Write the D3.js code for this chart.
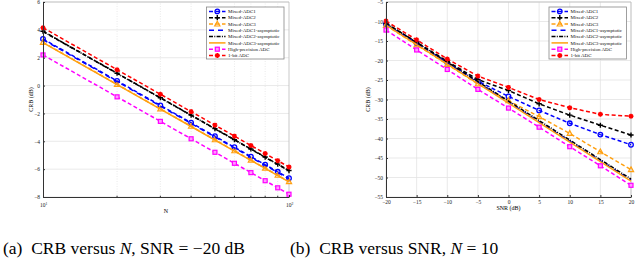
<!DOCTYPE html>
<html>
<head>
<meta charset="utf-8">
<script src="https://cdn.jsdelivr.net/npm/d3@7"></script>
<style>
  body { margin: 0; background: #fff; }
  svg { display: block; font-family: "Liberation Serif", "DejaVu Serif", serif; }
</style>
</head>
<body>
<svg id="chart" width="640" height="260"></svg>
<script>
// ---- data: (a) CRB versus N ----
const nValues = [10, 20, 30, 40, 50, 60, 70, 80, 90, 100];
const nAdc1 = [3.35, 0.34, -1.42, -2.67, -3.64, -4.43, -5.1, -5.68, -6.19, -6.65];
const nAdc2 = [3.9, 0.89, -0.87, -2.12, -3.09, -3.88, -4.55, -5.13, -5.64, -6.1];
const nAdc3 = [3.1, 0.09, -1.67, -2.92, -3.89, -4.68, -5.35, -5.93, -6.44, -6.9];
const nAdc1Asym = [3.3, 0.29, -1.47, -2.72, -3.69, -4.48, -5.15, -5.73, -6.24, -6.7];
const nAdc2Asym = [3.88, 0.87, -0.89, -2.14, -3.11, -3.9, -4.57, -5.15, -5.66, -6.12];
const nAdc3Asym = [3.08, 0.07, -1.69, -2.94, -3.91, -4.7, -5.37, -5.95, -6.46, -6.92];
const nHigh = [2.2, -0.81, -2.57, -3.82, -4.79, -5.58, -6.25, -6.83, -7.34, -7.8];
const nOneBit = [4.15, 1.14, -0.62, -1.87, -2.84, -3.63, -4.3, -4.88, -5.39, -5.85];

// ---- data: (b) CRB versus SNR ----
const snrValues = [-20, -15, -10, -5, 0, 5, 10, 15, 20];
const sAdc1 = [-10.7, -15.6, -20.5, -25.3, -29.2, -32.8, -36.1, -39.0, -41.6];
const sAdc2 = [-10.5, -15.3, -20.2, -24.9, -27.7, -31.1, -34.0, -36.6, -39.1];
const sAdc3 = [-11.0, -16.0, -21.0, -26.0, -30.3, -34.4, -38.7, -43.4, -48.0];
const sAdc1Asym = [-10.7, -15.7, -20.7, -25.7, -30.7, -35.7, -40.7, -45.7, -50.7];
const sAdc2Asym = [-10.4, -15.4, -20.4, -25.4, -30.4, -35.4, -40.4, -45.4, -50.4];
const sAdc3Asym = [-10.9, -15.9, -20.9, -25.9, -30.9, -35.9, -40.9, -45.9, -50.9];
const sHigh = [-12.2, -17.3, -22.3, -27.4, -32.2, -37.1, -42.1, -47.0, -52.0];
const sOneBit = [-9.9, -14.7, -19.6, -24.0, -26.9, -30.0, -32.1, -33.8, -34.3];

const seriesNames = ["Mixed-ADC1", "Mixed-ADC2", "Mixed-ADC3",
  "Mixed-ADC1-asymptotic", "Mixed-ADC2-asymptotic", "Mixed-ADC3-asymptotic",
  "High-precision ADC", "1-bit ADC"];

const nTicks = [-8, -6, -4, -2, 0, 2, 4, 6];
const snrTicksY = [-55, -50, -45, -40, -35, -30, -25, -20, -15, -10, -5];

// styles, same order as seriesNames
const orange = "#ffa010";
const styles = [
  { color: "#0000ff", dash: "4,2.5", marker: "circle" },
  { color: "#000000", dash: "4,2.5", marker: "plus" },
  { color: orange, dash: "4,2.5", marker: "triangle" },
  { color: "#0000ff", dash: "5,4", marker: null },
  { color: "#000000", dash: "4,1.3,1,1.3", marker: null },
  { color: orange, dash: null, marker: null },
  { color: "#ff00ff", dash: "4,2.5", marker: "square" },
  { color: "#ff0000", dash: "4,2.5", marker: "star" }
];

const svg = d3.select("#chart");

function drawMarker(g, type, x, y, color) {
  if (type === "circle") {
    g.append("circle").attr("cx", x).attr("cy", y).attr("r", 2.3)
      .attr("fill", "none").attr("stroke", color).attr("stroke-width", 1.3);
  } else if (type === "plus") {
    g.append("path").attr("d", `M${x - 2.6},${y}H${x + 2.6}M${x},${y - 2.6}V${y + 2.6}`)
      .attr("stroke", color).attr("stroke-width", 1.4);
  } else if (type === "triangle") {
    g.append("path").attr("d", `M${x},${y - 2.8}L${x + 2.6},${y + 2}L${x - 2.6},${y + 2}Z`)
      .attr("fill", "none").attr("stroke", color).attr("stroke-width", 1.2);
  } else if (type === "square") {
    g.append("rect").attr("x", x - 2).attr("y", y - 2).attr("width", 4).attr("height", 4)
      .attr("fill", "#ff99ff").attr("stroke", color).attr("stroke-width", 1.2);
  } else if (type === "star") {
    g.append("path").attr("d", `M${x - 2.5},${y}H${x + 2.5}M${x},${y - 2.5}V${y + 2.5}M${x - 1.8},${y - 1.8}L${x + 1.8},${y + 1.8}M${x - 1.8},${y + 1.8}L${x + 1.8},${y - 1.8}`)
      .attr("stroke", color).attr("stroke-width", 1.4);
  }
}

function panel(opt) {
  const { x, y, xs, series, xGrid, yGrid, xTickVals, xFormat, yTickVals, xLabel, legendX } = opt;
  const g = svg.append("g");
  const [x0, x1] = x.range();
  const [y0, y1] = y.range();

  // grid
  g.append("g").selectAll("line").data(xGrid).join("line")
    .attr("x1", d => x(d)).attr("x2", d => x(d)).attr("y1", y0).attr("y2", y1)
    .attr("stroke", "#e3e3e3").attr("stroke-width", 0.8)
    .attr("stroke-dasharray", opt.xGridDash || null);
  g.append("g").selectAll("line").data(yGrid).join("line")
    .attr("x1", x0).attr("x2", x1).attr("y1", d => y(d)).attr("y2", d => y(d))
    .attr("stroke", "#e3e3e3").attr("stroke-width", 0.8);
  // top / right frame
  g.append("path").attr("d", `M${x0},${y1}H${x1}V${y0}`)
    .attr("fill", "none").attr("stroke", "#bbb").attr("stroke-width", 0.8);

  // series
  const line = d3.line().x((d, i) => x(xs[i])).y(d => y(d));
  series.forEach((vals, k) => {
    const s = styles[k];
    g.append("path").datum(vals).attr("d", line)
      .attr("fill", "none").attr("stroke", s.color).attr("stroke-width", 1.5)
      .attr("stroke-dasharray", s.dash);
    if (s.marker) {
      const mg = g.append("g");
      vals.forEach((v, i) => drawMarker(mg, s.marker, x(xs[i]), y(v), s.color));
    }
  });

  // axes
  const ax = g.append("g").attr("transform", `translate(0,${y0})`)
    .call(d3.axisBottom(x).tickValues(xTickVals).tickFormat(xFormat).tickSizeInner(-2).tickSizeOuter(0).tickPadding(3));
  const ay = g.append("g").attr("transform", `translate(${x0},0)`)
    .call(d3.axisLeft(y).tickValues(yTickVals).tickSizeInner(-2).tickSizeOuter(0).tickPadding(3));
  [ax, ay].forEach(a => {
    a.select(".domain").attr("stroke", "#333").attr("stroke-width", 1);
    a.selectAll(".tick line").attr("stroke", "#333");
    a.selectAll("text").attr("font-size", 5.5).attr("fill", "#222")
      .attr("font-family", "Liberation Serif");
  });
  if (opt.minorX) {
    ax.selectAll(".minor").data(opt.minorX).join("line")
      .attr("x1", d => x(d)).attr("x2", d => x(d)).attr("y1", 0).attr("y2", -1.3)
      .attr("stroke", "#333");
  }

  g.append("text").attr("x", (x0 + x1) / 2).attr("y", opt.xLabelY)
    .attr("text-anchor", "middle").attr("font-size", 6).text(xLabel);
  g.append("text").attr("transform", `translate(${opt.yLabelX},${(y0 + y1) / 2}) rotate(-90)`)
    .attr("text-anchor", "middle").attr("font-size", 6).text("CRB (dB)");

  // legend
  const lg = g.append("g").attr("transform", `translate(${legendX},7)`);
  lg.append("rect").attr("width", 77.5).attr("height", 52)
    .attr("fill", "#fff").attr("stroke", "#888").attr("stroke-width", 0.8);
  seriesNames.forEach((name, k) => {
    const s = styles[k];
    const ly = 4.4 + k * 6.3;
    lg.append("line").attr("x1", 2.5).attr("x2", 19).attr("y1", ly).attr("y2", ly)
      .attr("stroke", s.color).attr("stroke-width", 1.5)
      .attr("stroke-dasharray", s.dash);
    if (s.marker) drawMarker(lg, s.marker, 10.8, ly, s.color);
    lg.append("text").attr("x", 21.5).attr("y", ly + 1.7)
      .attr("font-size", 5).attr("fill", "#111").text(name);
  });
}

// (a)
const xa = d3.scaleLog().domain([10, 100]).range([43, 289]);
const ya = d3.scaleLinear().domain([-8, 6]).range([197, 2]);
panel({
  x: xa, y: ya, xs: nValues,
  series: [nAdc1, nAdc2, nAdc3, nAdc1Asym, nAdc2Asym, nAdc3Asym, nHigh, nOneBit],
  xGrid: [20, 30, 40, 50, 60, 70, 80, 90], xGridDash: "1,1.5", yGrid: nTicks,
  xTickVals: [10, 100], xFormat: () => "", yTickVals: nTicks, minorX: [20, 30, 40, 50, 60, 70, 80, 90],
  xLabel: "N", xLabelY: 213, yLabelX: 33, legendX: 206.5
});
// 10^1, 10^2 labels
[[10, "1"], [100, "2"]].forEach(([v, e]) => {
  const t = svg.append("text").attr("x", xa(v) - 3).attr("y", 207).attr("font-size", 5.5).attr("fill", "#222");
  t.append("tspan").text("10");
  t.append("tspan").attr("dy", -2).attr("font-size", 3.8).text(e);
});

// (b)
const xb = d3.scaleLinear().domain([-20, 20]).range([386, 631]);
const yb = d3.scaleLinear().domain([-55, -5]).range([197, 2]);
panel({
  x: xb, y: yb, xs: snrValues,
  series: [sAdc1, sAdc2, sAdc3, sAdc1Asym, sAdc2Asym, sAdc3Asym, sHigh, sOneBit],
  xGrid: snrValues, yGrid: snrTicksY,
  xTickVals: snrValues, xFormat: d3.format("d"), yTickVals: snrTicksY,
  xLabel: "SNR (dB)", xLabelY: 210, yLabelX: 370, legendX: 549
});

// captions
const capA = svg.append("text").attr("x", 3).attr("y", 254).attr("font-size", 17.5);
capA.append("tspan").text("(a)\u2002CRB versus ");
capA.append("tspan").attr("font-style", "italic").text("N");
capA.append("tspan").text(", SNR = \u221220 dB");
const capB = svg.append("text").attr("x", 290).attr("y", 254).attr("font-size", 17.5);
capB.append("tspan").text("(b)\u2002CRB versus SNR, ");
capB.append("tspan").attr("font-style", "italic").text("N");
capB.append("tspan").text(" = 10");
</script>
</body>
</html>
